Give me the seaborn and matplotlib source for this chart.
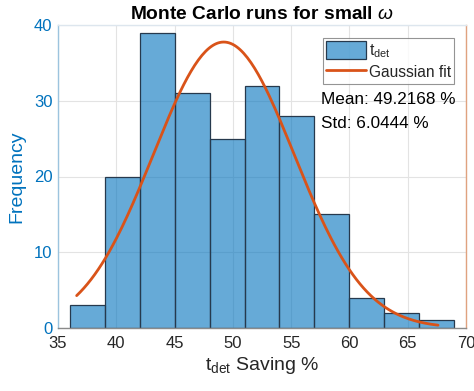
import numpy as np
import pandas as pd
import matplotlib
matplotlib.use("Agg")
import matplotlib.pyplot as plt
import seaborn as sns

# Histogram of detection-time savings over 200 Monte Carlo runs
bin_edges = [36, 39, 42, 45, 48, 51, 54, 57, 60, 63, 66, 69]
counts = [3, 20, 39, 31, 25, 32, 28, 15, 4, 2, 1]

# Gaussian fit parameters
fit_mean = 49.2168
fit_std = 6.0444
fit_peak = 37.75
fit_range = [36.6, 67.6]

x_ticks = [35, 40, 45, 50, 55, 60, 65, 70]
y_ticks = [0, 10, 20, 30, 40]

sns.set_theme(style="white")
plt.rcParams["font.family"] = ["Liberation Sans", "DejaVu Sans"]
plt.rcParams["mathtext.fontset"] = "custom"
plt.rcParams["mathtext.rm"] = "Liberation Sans"
plt.rcParams["mathtext.it"] = "Liberation Sans:italic"

blue = "#0072BD"
orange = "#D95319"
dark = "#262626"

fig = plt.figure(figsize=(4.74, 3.91), dpi=100)
ax = fig.add_axes([58 / 474, 1 - 328 / 391, (466 - 58) / 474, (328 - 25) / 391])

centers = [(bin_edges[i] + bin_edges[i + 1]) / 2 for i in range(len(counts))]
df = pd.DataFrame({"x": centers, "w": counts})
sns.histplot(data=df, x="x", weights="w", bins=bin_edges, ax=ax,
             color=blue, alpha=0.6, edgecolor="#26394d", linewidth=0.9,
             label=r"t$_{\rm det}$", zorder=2)

xs = np.linspace(fit_range[0], fit_range[1], 200)
ys = fit_peak * np.exp(-((xs - fit_mean) ** 2) / (2 * fit_std ** 2))
sns.lineplot(x=xs, y=ys, ax=ax, color=orange, linewidth=2.0,
             label="Gaussian fit", zorder=3)

ax.set_xlim(35, 70)
ax.set_ylim(0, 40)
ax.set_xticks(x_ticks)
ax.set_yticks(y_ticks)
ax.grid(True, color="#e3e3e3", linewidth=0.8, zorder=0)
ax.set_axisbelow(True)

ax.tick_params(axis="x", direction="in", length=3, colors=dark,
               labelsize=12, labelcolor=dark, pad=6)
ax.tick_params(axis="y", direction="in", length=3, colors=blue,
               labelsize=12, labelcolor=blue, pad=4)

ax.spines["left"].set_color("#9cc4de")
ax.spines["bottom"].set_color("#8a8a8a")
ax.spines["top"].set_color("#dde6ee")
ax.spines["right"].set_color("#e0a27f")
for s in ax.spines.values():
    s.set_linewidth(1.0)

ax.set_xlabel(r"t$_{\rm det}$ Saving %", fontsize=14, color=dark, labelpad=3)
ax.set_ylabel("Frequency", fontsize=14, color=blue, labelpad=6)
ax.set_title(r"Monte Carlo runs for small $\omega$", fontsize=13.8,
             fontweight="bold", color="black", pad=4)

handles, labels = ax.get_legend_handles_labels()
order = [labels.index(r"t$_{\rm det}$"), labels.index("Gaussian fit")]
leg = ax.legend([handles[i] for i in order], [labels[i] for i in order],
                loc="upper right", bbox_to_anchor=(0.9706, 0.958),
                fontsize=11.2, frameon=True, fancybox=False,
                edgecolor="#7a7a7a", borderpad=0.2, handlelength=2.55,
                handleheight=1.4, labelspacing=0.2, borderaxespad=0.0,
                handletextpad=0.2)
leg.get_frame().set_linewidth(0.8)

ax.text(0.645, 0.755, f"Mean: {fit_mean:.4f} %", transform=ax.transAxes,
        fontsize=12.3, color="black", va="center", ha="left")
ax.text(0.645, 0.675, f"Std: {fit_std:.4f} %", transform=ax.transAxes,
        fontsize=12.3, color="black", va="center", ha="left")

fig.savefig("out.png", dpi=100)
